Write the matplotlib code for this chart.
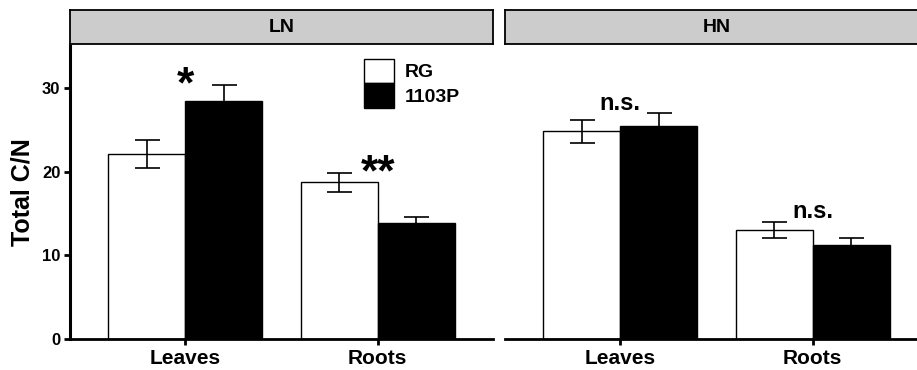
import matplotlib
matplotlib.use('Agg')
import matplotlib.pyplot as plt
import numpy as np

plt.rcParams['font.family'] = ['Liberation Sans', 'DejaVu Sans']
plt.rcParams['font.weight'] = 'bold'

panels = ['LN', 'HN']
tissues = ['Leaves', 'Roots']
genotypes = ['RG', '1103P']
colors = ['white', 'black']

# mean values, [panel][genotype][tissue]
means = {
    'LN': {'RG': [22.1, 18.7], '1103P': [28.4, 13.9]},
    'HN': {'RG': [24.8, 13.05], '1103P': [25.4, 11.2]},
}
errs = {
    'LN': {'RG': [1.7, 1.15], '1103P': [2.0, 0.7]},
    'HN': {'RG': [1.4, 0.97], '1103P': [1.6, 0.9]},
}
# significance labels: text, panel, tissue index, y position
sig_labels = [('*', 'LN', 0, 28.9), ('**', 'LN', 1, 18.3),
              ('n.s.', 'HN', 0, 27.4), ('n.s.', 'HN', 1, 14.4)]

W, H = 917, 370
fig = plt.figure(figsize=(W / 100, H / 100), dpi=100)

ax_w = 423 / W
ax_b = 1 - 339 / H
ax_h = (339 - 46) / H
lefts = [70 / W, 505 / W]

axes = {}
for p, left in zip(panels, lefts):
    ax = fig.add_axes([left, ax_b, ax_w, ax_h])
    axes[p] = ax
    x = np.arange(1, len(tissues) + 1)
    bw = 0.4
    for i, g in enumerate(genotypes):
        xs = x - bw / 2 + i * bw
        ax.bar(xs, means[p][g], width=bw, color=colors[i], edgecolor='black',
               linewidth=1.0, label=g, zorder=2)
        ax.errorbar(xs, means[p][g], yerr=errs[p][g], fmt='none', ecolor='black',
                    elinewidth=1.2, capsize=9, capthick=1.2, zorder=3)
    ax.set_xlim(0.4, 2.6)
    ax.set_ylim(0, 35)
    ax.set_xticks(x)
    ax.set_xticklabels(tissues, fontsize=15, fontweight='bold')
    for s in ['top', 'right']:
        ax.spines[s].set_visible(False)
    ax.spines['bottom'].set_linewidth(2)
    ax.spines['left'].set_linewidth(2.2)
    ax.tick_params(axis='x', length=4, width=2, pad=3)
    ax.tick_params(axis='y', length=4, width=2, pad=3, labelsize=12)
    ax.set_yticks([0, 10, 20, 30])
    for lab in ax.get_yticklabels():
        lab.set_fontweight('bold')
    # strip header
    strip = fig.add_axes([left, 1 - 44 / H, ax_w, 34 / H])
    strip.set_facecolor('#cccccc')
    strip.set_xticks([])
    strip.set_yticks([])
    for s in strip.spines.values():
        s.set_linewidth(1.3)
    strip.text(0.5, 0.5, p, ha='center', va='center', fontsize=14,
               fontweight='bold', transform=strip.transAxes)

axes['HN'].spines['left'].set_visible(False)
axes['HN'].tick_params(axis='y', left=False, labelleft=False)

axes['LN'].set_ylabel('Total C/N', fontsize=18, fontweight='bold', labelpad=5)

for txt, p, ti, yv in sig_labels:
    fs = 32 if '*' in txt else 17
    axes[p].text(ti + 1, yv, txt, ha='center', va='baseline', fontsize=fs,
                 fontweight='bold', zorder=4)

leg = axes['LN'].legend(loc='upper left', bbox_to_anchor=(0.695, 0.956),
                        frameon=False, fontsize=14, handlelength=1.55,
                        handleheight=1.55, labelspacing=0, borderpad=0,
                        handletextpad=0.55, borderaxespad=0)
for t in leg.get_texts():
    t.set_fontweight('bold')

fig.savefig('out.png', dpi=100)
